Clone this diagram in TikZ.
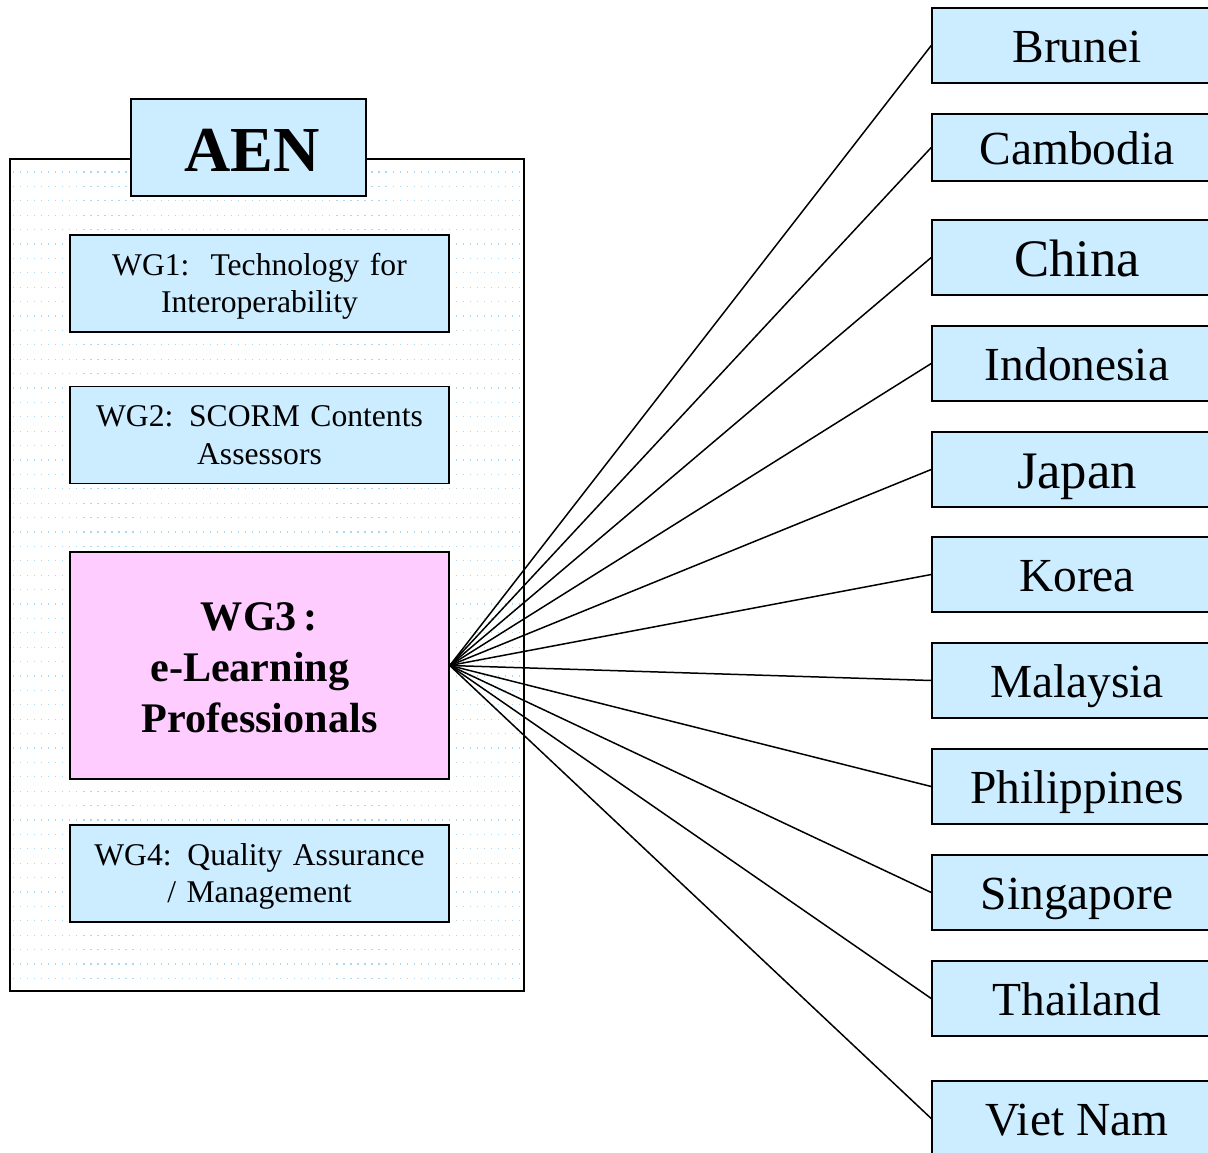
\documentclass[tikz,border=0pt]{standalone}
\usepackage{fontspec}
\setmainfont{Liberation Serif}
\usepackage{xcolor}
\definecolor{BoxBlue}{HTML}{CCECFF}
\definecolor{BoxPink}{HTML}{FFCCFF}
\definecolor{GridBlue}{HTML}{A9D9F2}

\begin{document}
\begin{tikzpicture}[x=0.02cm, y=-0.02cm,
    box/.style={draw, line width=0.9pt, fill=BoxBlue, inner sep=0pt, align=center},
    wgbox/.style={box, minimum width=7.58cm, minimum height=1.94cm, text width=7.4cm,
        text height=0pt, text depth=9.6pt, font=\fontsize{18}{21.5}\selectfont},
    country/.style={box, minimum width=5.8cm, text depth=0pt},
    gridline/.style={GridBlue, line width=0.7pt, dash pattern=on 0.7pt off 3.3pt}]
    \useasboundingbox (0,0) rectangle (1208,1153);
    \clip (0,0) rectangle (1208,1153);
    % outer frame with dotted background
    \draw[line width=0.9pt] (10,159) rectangle (524,991);
    \foreach \r in {0,...,56}
        \draw[gridline] (13,{172+\r*14.4}) -- (521,{172+\r*14.4});
    \node[box, minimum width=4.7cm, minimum height=1.94cm, text height=27.4pt, text depth=0pt,
        font=\fontsize{36.5}{40}\bfseries] (aen) at (248.5,147.5) {\hspace*{4pt}AEN};
    % working groups
    \node[wgbox] (wg1) at (259.5,283.5) {WG1:\ \ Technology for\\Interoperability};
    \node[wgbox] (wg2) at (259.5,435) {WG2: SCORM Contents\\Assessors};
    \node[wgbox, fill=BoxPink, minimum height=4.54cm, text depth=40.2pt,
        font=\fontsize{24}{29}\bfseries] (wg3) at (259.5,665.5) {WG3\,:\\e-Learning\rule{11pt}{0pt}\\Professionals};
    \node[wgbox] (wg4) at (259.5,873.5) {WG4: Quality Assurance\\/ Management};
    % member countries
    \foreach \name/\yc/\bh/\fs in {Brunei/45.5/1.5/27, Cambodia/147.5/1.34/27, China/257.5/1.5/30,
        Indonesia/363.5/1.5/27, Japan/469.5/1.5/30, Korea/574.5/1.5/27, Malaysia/680.5/1.5/27,
        Philippines/786.5/1.5/27, Singapore/892.5/1.5/27, Thailand/998.5/1.5/27, Viet Nam/1118.5/1.5/27}
    {
        \node[country, minimum height=\bh cm, text height={0.73*\fs*1pt},
            font=\fontsize{\fs}{\fs}\selectfont] (\name) at (1077,\yc) {\name};
        \draw[line width=0.85pt] (wg3.east) -- (\name.west);
    }
\end{tikzpicture}
\end{document}
